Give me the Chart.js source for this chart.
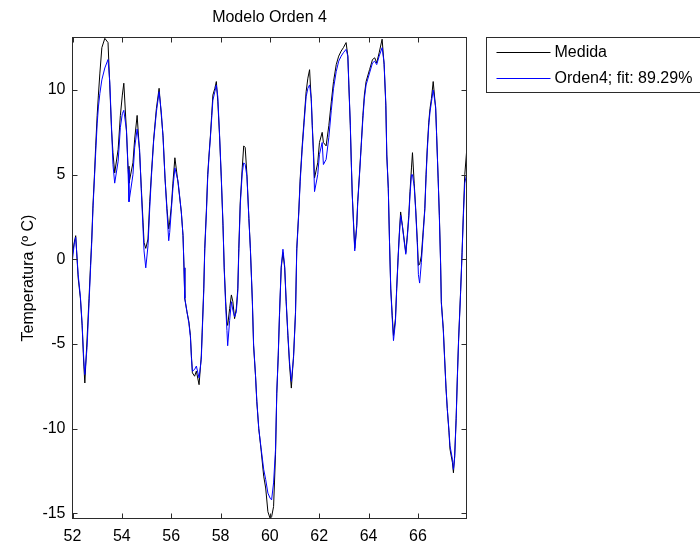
<!DOCTYPE html>
<html>
<head>
<meta charset="utf-8">
<script src="https://cdn.jsdelivr.net/npm/chart.js@4/dist/chart.umd.min.js"></script>
<style>
    html, body { margin: 0; padding: 0; background: #fff; }
    canvas { display: block; }
</style>
</head>
<body>
<canvas id="grafico" width="700" height="542"></canvas>
<script>
/* ============================================================
   DATOS
============================================================ */

const tiempo = [
    52.00,52.07,52.13,52.23,52.32,52.39,52.46,52.50,52.59,52.67,
    52.73,52.78,52.83,52.89,52.94,53.00,53.05,53.11,53.19,53.31,
    53.44,53.51,53.58,53.64,53.71,53.85,53.94,54.02,54.08,54.19,
    54.25,54.29,54.45,54.52,54.62,54.72,54.79,54.86,54.90,54.97,
    55.06,55.13,55.20,55.29,55.40,55.51,55.60,55.67,55.75,55.83,
    55.90,55.94,56.01,56.07,56.15,56.28,56.41,56.48,56.52,56.55,
    56.64,56.72,56.78,56.82,56.86,56.95,57.02,57.13,57.22,57.26,
    57.32,57.36,57.43,57.48,57.53,57.59,57.64,57.69,57.77,57.83,
    57.89,57.96,58.03,58.10,58.15,58.21,58.26,58.29,58.37,58.44,
    58.50,58.57,58.64,58.70,58.74,58.80,58.88,58.94,59.00,59.07,
    59.15,59.21,59.29,59.34,59.42,59.47,59.55,59.64,59.75,59.83,
    59.92,60.01,60.07,60.15,60.23,60.28,60.34,60.39,60.46,60.53,
    60.60,60.66,60.73,60.80,60.87,60.96,61.04,61.09,61.17,61.23,
    61.31,61.39,61.47,61.54,61.61,61.68,61.72,61.77,61.81,61.94,
    62.01,62.12,62.17,62.28,62.39,62.49,62.58,62.69,62.79,62.89,
    62.98,63.09,63.16,63.20,63.26,63.30,63.34,63.39,63.44,63.52,
    63.56,63.63,63.70,63.77,63.83,63.90,64.04,64.16,64.25,64.33,
    64.43,64.55,64.63,64.70,64.74,64.80,64.85,64.90,64.96,65.01,
    65.09,65.14,65.20,65.25,65.30,65.37,65.44,65.51,65.57,65.63,
    65.68,65.74,65.78,65.85,65.91,65.98,66.02,66.07,66.14,66.22,
    66.28,66.33,66.38,66.44,66.49,66.55,66.62,66.72,66.76,66.82,
    66.87,66.92,66.95,67.03,67.08,67.14,67.19,67.26,67.30,67.40,
    67.44,67.49,67.55,67.60,67.65,67.73,67.79,67.84,67.90,67.97
];

// Medida (negro)
const medida = [
    0.3,1.0,1.4,-1.1,-2.3,-3.9,-6.3,-7.3,-4.7,-2.3,
    -0.35,1.2,3.2,5.0,6.7,8.5,9.7,11.0,12.5,13.05,
    12.8,10.3,7.7,6.3,5.1,6.5,8.5,9.7,10.4,7.5,
    5.5,4.5,5.7,7.1,8.5,6.3,4.2,2.2,1.0,0.65,
    1.2,3.4,5.1,7.1,8.9,10.1,8.5,7.3,4.8,3.0,
    1.8,2.2,3.2,4.5,6.0,4.5,2.8,1.4,-0.5,-2.3,
    -3.1,-3.7,-4.5,-5.7,-6.7,-6.9,-6.6,-7.4,-5.7,-4.1,
    -1.7,0.65,3.0,5.0,6.1,7.3,8.5,9.7,10.1,10.5,
    9.3,7.3,4.8,2.0,-0.5,-2.5,-3.7,-3.9,-2.9,-2.1,
    -2.5,-3.5,-2.9,-1.7,0.65,3.4,5.4,6.7,6.6,5.0,
    2.4,0.65,-2.5,-5.1,-6.9,-8.4,-10.0,-11.2,-12.8,-13.5,
    -14.9,-15.3,-15.2,-14.6,-11.5,-7.9,-5.7,-3.3,-0.5,0.4,
    -0.5,-2.5,-4.5,-6.3,-7.6,-5.7,-3.1,0.65,2.8,4.8,
    6.7,8.3,9.9,10.7,11.2,9.3,7.9,6.3,4.8,5.7,
    6.9,7.5,6.9,6.7,7.9,9.3,10.5,11.5,12.0,12.3,
    12.5,12.8,12.0,10.3,7.9,5.7,3.8,2.2,0.65,2.0,
    3.4,5.0,6.7,8.5,9.7,10.5,11.2,11.8,11.9,11.6,
    12.2,13.0,11.5,9.1,6.1,4.2,1.0,-1.7,-3.3,-4.5,
    -3.5,-1.7,0.2,1.6,2.8,2.0,1.2,0.4,1.4,2.6,
    4.0,5.4,6.3,4.5,3.0,1.0,-0.35,-0.3,0.2,1.8,
    3.0,5.0,6.6,8.1,8.9,9.5,10.5,8.9,7.3,4.8,
    2.6,-0.2,-2.5,-4.1,-5.7,-7.6,-8.8,-10.2,-11.2,-12.0,
    -12.6,-11.6,-9.4,-6.9,-4.7,-1.9,0.4,2.6,5.0,6.3
];

// Modelo de orden 4 (azul)
const orden4 = [
    0.0,0.9,1.3,-0.9,-2.2,-3.8,-6.0,-6.8,-5.2,-2.6,
    -0.6,1.0,3.0,4.8,6.3,8.0,9.0,9.8,10.6,11.3,
    11.8,10.5,7.9,5.6,4.5,5.8,7.8,8.6,8.8,7.6,
    5.3,3.4,5.0,6.6,7.7,6.5,4.0,1.8,0.5,-0.5,
    0.8,3.0,4.9,7.0,8.7,9.9,8.7,7.2,4.8,2.8,
    1.1,1.6,3.0,4.2,5.4,4.6,2.8,1.4,-0.5,-2.3,
    -3.1,-3.8,-4.6,-5.8,-6.6,-6.5,-6.3,-7.0,-5.9,-4.3,
    -1.9,0.5,2.8,4.8,6.0,7.2,8.3,9.4,9.9,10.3,
    9.6,7.4,4.9,2.1,-0.6,-2.8,-4.2,-5.1,-3.6,-2.5,
    -3.0,-3.4,-3.1,-1.9,0.4,3.2,5.1,5.7,5.6,4.9,
    2.4,0.6,-2.4,-5.0,-6.9,-8.3,-10.0,-11.1,-12.4,-13.0,
    -13.8,-14.1,-14.2,-13.2,-11.2,-7.9,-5.6,-3.2,-0.4,0.6,
    -0.4,-2.4,-4.4,-6.1,-7.2,-5.8,-3.2,0.5,2.7,4.6,
    6.5,8.1,9.6,10.1,10.3,9.5,7.8,6.0,4.0,5.0,
    6.2,6.9,5.6,5.9,7.2,8.8,10.1,11.1,11.7,12.0,
    12.2,12.4,12.0,10.4,8.0,5.8,3.8,2.1,0.5,1.9,
    3.3,4.9,6.6,8.3,9.5,10.3,11.0,11.6,11.7,11.5,
    12.0,12.5,11.6,9.2,6.2,4.2,1.0,-1.8,-3.5,-4.8,
    -3.7,-1.8,0.1,1.5,2.6,2.0,1.1,0.3,1.3,2.4,
    3.8,5.0,5.0,4.3,2.9,0.8,-0.9,-1.4,-0.2,1.6,
    2.9,4.8,6.4,7.9,8.7,9.3,10.0,9.0,7.3,4.8,
    2.5,-0.3,-2.6,-4.2,-5.8,-7.6,-8.8,-10.1,-11.0,-11.8,
    -12.4,-11.7,-9.5,-7.0,-4.8,-2.0,0.3,2.4,4.5,5.0
];

const xTicks = [52, 54, 56, 58, 60, 62, 64, 66];
const yTicks = [-15, -10, -5, 0, 5, 10];

const titulo = "Modelo Orden 4";
const etiquetaY = "Temperatura (º C)";
const nombres = ["Medida", "Orden4; fit: 89.29%"];
const colores = ["#000000", "#0000ff"];

const FUENTE = '"Liberation Sans", Arial, sans-serif';


/* ============================================================
   MARCO ESTILO MATLAB (caja, ticks hacia dentro, titulo, leyenda)
============================================================ */

const marcoMatlab = {
    id: "marcoMatlab",
    afterDraw(chart) {
        const ctx = chart.ctx;
        const a = chart.chartArea;
        const sx = chart.scales.x;
        const sy = chart.scales.y;
        const L = 5;

        ctx.save();
        ctx.strokeStyle = "#2b2b2b";
        ctx.lineWidth = 1;
        ctx.strokeRect(a.left, a.top, a.right - a.left, a.bottom - a.top);

        ctx.beginPath();
        xTicks.forEach(v => {
            const p = Math.round(sx.getPixelForValue(v)) + 0.5;
            ctx.moveTo(p, a.bottom); ctx.lineTo(p, a.bottom - L);
            ctx.moveTo(p, a.top);    ctx.lineTo(p, a.top + L);
        });
        yTicks.forEach(v => {
            const p = Math.round(sy.getPixelForValue(v)) + 0.5;
            ctx.moveTo(a.left, p);  ctx.lineTo(a.left + L, p);
            ctx.moveTo(a.right, p); ctx.lineTo(a.right - L, p);
        });
        ctx.stroke();

        // titulo
        ctx.fillStyle = "#000";
        ctx.font = "16px " + FUENTE;
        ctx.textAlign = "center";
        ctx.textBaseline = "middle";
        ctx.fillText(titulo, (a.left + a.right) / 2, 18);

        // etiqueta eje y
        ctx.save();
        ctx.translate(29, (a.top + a.bottom) / 2);
        ctx.rotate(-Math.PI / 2);
        ctx.fillText(etiquetaY, 0, 0);
        ctx.restore();

        // leyenda
        const lx = a.right + 20, ly = a.top;
        ctx.fillStyle = "#fff";
        ctx.fillRect(lx, ly, 240, 55);
        ctx.strokeStyle = "#2b2b2b";
        ctx.strokeRect(lx, ly, 240, 55);
        ctx.textAlign = "left";
        nombres.forEach((n, i) => {
            const y = Math.round(ly + 14.5 + i * 25.5) + 0.5;
            ctx.strokeStyle = colores[i];
            ctx.beginPath();
            ctx.moveTo(lx + 10, y);
            ctx.lineTo(lx + 64, y);
            ctx.stroke();
            ctx.fillStyle = "#000";
            ctx.fillText(n, lx + 68, y);
        });
        ctx.restore();
    }
};


/* ============================================================
   GRAFICO
============================================================ */

const puntos = serie => tiempo.map((t, i) => ({ x: t, y: serie[i] }));

new Chart(document.getElementById("grafico"), {
    type: "line",
    data: {
        datasets: [
            { label: nombres[0], data: puntos(medida), borderColor: colores[0],
              borderWidth: 1, pointRadius: 0, tension: 0, order: 2 },
            { label: nombres[1], data: puntos(orden4), borderColor: colores[1],
              borderWidth: 1, pointRadius: 0, tension: 0, order: 1 }
        ]
    },
    options: {
        responsive: false,
        animation: false,
        layout: { padding: { left: 0, right: 233.5, top: 37.5, bottom: 0 } },
        plugins: {
            legend: { display: false },
            title: { display: false },
            tooltip: { enabled: false }
        },
        scales: {
            x: {
                type: "linear",
                min: 52,
                max: 67.97,
                grid: { display: false, drawTicks: false },
                border: { display: false },
                afterBuildTicks: s => { s.ticks = xTicks.map(v => ({ value: v })); },
                afterFit: s => { s.height = 23.5; },
                ticks: { color: "#000", font: { family: FUENTE, size: 16 }, padding: 8, maxRotation: 0 }
            },
            y: {
                type: "linear",
                min: -15.3,
                max: 13.1,
                grid: { display: false, drawTicks: false },
                border: { display: false },
                afterBuildTicks: s => { s.ticks = yTicks.map(v => ({ value: v })); },
                afterFit: s => { s.width = 72.5; },
                ticks: { color: "#000", font: { family: FUENTE, size: 16 }, padding: 7 }
            }
        }
    },
    plugins: [marcoMatlab]
});
</script>
</body>
</html>
